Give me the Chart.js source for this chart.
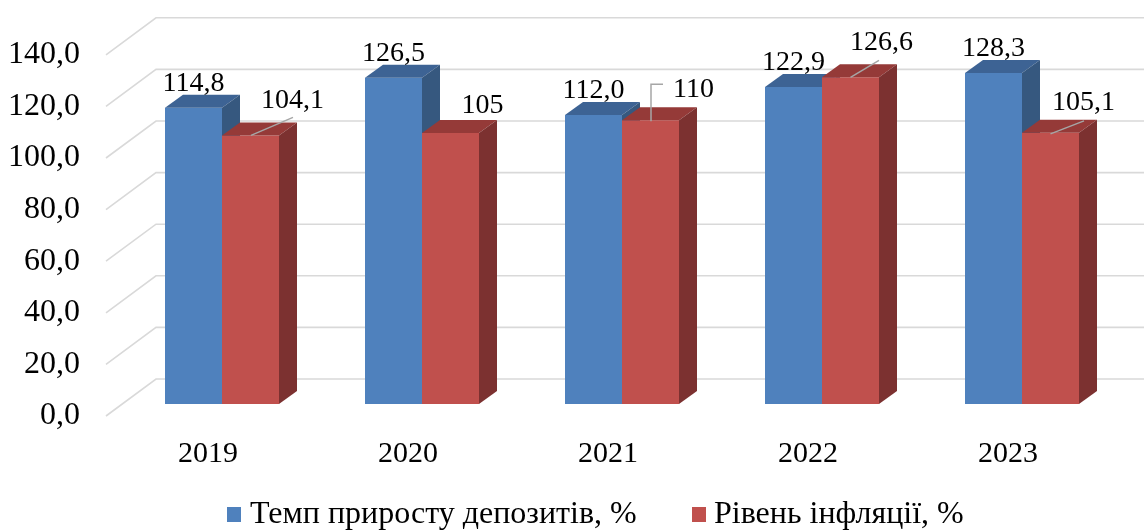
<!DOCTYPE html>
<html>
<head>
<meta charset="utf-8">
<script src="https://cdn.jsdelivr.net/npm/chart.js@4.4.1/dist/chart.umd.min.js"></script>
<style>
  html, body { margin: 0; padding: 0; background: #ffffff; }
  #wrap { width: 1144px; height: 530px; position: relative; }
</style>
</head>
<body>
<div id="wrap"><canvas id="chart" width="1144" height="530"></canvas></div>
<script>
// Years on the category axis
const years = ['2019', '2020', '2021', '2022', '2023'];
// Deposit growth rate, %
const depositGrowth = [114.8, 126.5, 112.0, 122.9, 128.3];
// Inflation level, %
const inflation = [104.1, 105, 110, 126.6, 105.1];
// Series names
const seriesNames = ['Темп приросту депозитів, %', 'Рівень інфляції, %'];
// Value axis ticks
const axisMin = 0, axisMax = 140, axisStep = 20;

// Face colours of the 3-D columns: front, top, side
const faces = [
  { front: '#4F81BD', top: '#3D6394', side: '#36587F' },
  { front: '#C0504D', top: '#953A38', side: '#7C3130' }
];

// Perspective offsets (pixels)
const BAR_DX = 18, BAR_DY = -13;     // column depth
const BACK_DX = 34, BACK_DY = -25;   // column front plane -> back wall
const FRONT_DX = -16, FRONT_DY = 12; // column front plane -> floor front edge

const SERIF = '"Liberation Serif", "Times New Roman", serif';
const fmtAxis = v => v.toFixed(1).replace('.', ',');
const fmtBlue = v => v.toFixed(1).replace('.', ',');
const fmtRed = v => String(v).replace('.', ',');

// Hand-placed label offsets for the second series, with leader lines
const redLabelPos = [
  { dx: 42, dy: -27, leader: [[42.5, -18], [0.5, 0]] },
  { dx: 32, dy: -20, leader: null },
  { dx: 43, dy: -23, leader: [[12.5, -36], [0.5, -36], [0.5, 1]] },
  { dx: 31, dy: -27, leader: [[28.5, -17], [0, 0]] },
  { dx: 33, dy: -23, leader: [[33.5, -12], [0, 1]] }
];

function poly(ctx, pts, color) {
  ctx.beginPath();
  ctx.moveTo(pts[0][0], pts[0][1]);
  for (let i = 1; i < pts.length; i++) ctx.lineTo(pts[i][0], pts[i][1]);
  ctx.closePath();
  ctx.fillStyle = color;
  ctx.fill();
}

const threeD = {
  id: 'threeD',
  beforeDatasetsDraw(chart) {
    const ctx = chart.ctx;
    const ys = chart.scales.y;
    const left = chart.chartArea.left;

    // walls: back gridlines plus the receding lines on the side wall
    ctx.save();
    ctx.strokeStyle = '#D9D9D9';
    ctx.lineWidth = 1.6;
    ys.ticks.forEach(t => {
      const y = ys.getPixelForValue(t.value);
      ctx.beginPath();
      ctx.moveTo(left + FRONT_DX, y + FRONT_DY);
      ctx.lineTo(left + BACK_DX, y + BACK_DY);
      ctx.lineTo(chart.width + 20, y + BACK_DY);
      ctx.stroke();
    });
    ctx.restore();

    // columns, drawn category by category so nearer faces overlap correctly
    const metas = chart.data.datasets.map((d, i) => chart.getDatasetMeta(i));
    for (let i = 0; i < years.length; i++) {
      metas.forEach((meta, s) => {
        const bar = meta.data[i];
        const { x, y, base, width } = bar.getProps(['x', 'y', 'base', 'width'], true);
        const l = x - width / 2, r = x + width / 2;
        const c = faces[s];
        ctx.save();
        poly(ctx, [[l, y], [r, y], [r, base], [l, base]], c.front);
        poly(ctx, [[l, y], [r, y], [r + BAR_DX, y + BAR_DY], [l + BAR_DX, y + BAR_DY]], c.top);
        poly(ctx, [[r, y], [r + BAR_DX, y + BAR_DY], [r + BAR_DX, base + BAR_DY], [r, base]], c.side);
        ctx.restore();
      });
    }
    return false;
  },
  afterDraw(chart) {
    const ctx = chart.ctx;
    ctx.save();
    ctx.fillStyle = '#000000';
    ctx.font = '28px ' + SERIF;
    ctx.textBaseline = 'alphabetic';

    // value labels, first series: centred above the column
    const m0 = chart.getDatasetMeta(0);
    m0.data.forEach((bar, i) => {
      ctx.textAlign = 'center';
      ctx.fillText(fmtBlue(depositGrowth[i]), bar.x, bar.y - 17);
    });

    // value labels, second series, with leader lines
    const m1 = chart.getDatasetMeta(1);
    m1.data.forEach((bar, i) => {
      const p = redLabelPos[i];
      if (p.leader) {
        ctx.beginPath();
        ctx.strokeStyle = '#A6A6A6';
        ctx.lineWidth = 1.5;
        p.leader.forEach((pt, k) => {
          const fn = k === 0 ? 'moveTo' : 'lineTo';
          ctx[fn](bar.x + pt[0], bar.y + pt[1]);
        });
        ctx.stroke();
      }
      ctx.textAlign = 'center';
      ctx.fillText(fmtRed(inflation[i]), bar.x + p.dx, bar.y + p.dy);
    });

    // legend
    const items = [
      { sq: [227, 507, 14, 15], tx: 250, color: faces[0].front, text: chart.data.datasets[0].label },
      { sq: [692, 507, 14, 15], tx: 714, color: faces[1].front, text: chart.data.datasets[1].label }
    ];
    ctx.font = '32px ' + SERIF;
    ctx.textAlign = 'left';
    ctx.textBaseline = 'alphabetic';
    items.forEach(it => {
      ctx.fillStyle = it.color;
      ctx.fillRect(it.sq[0], it.sq[1], it.sq[2], it.sq[3]);
      ctx.fillStyle = '#000000';
      ctx.fillText(it.text, it.tx, 523);
    });
    ctx.restore();
  }
};

new Chart(document.getElementById('chart'), {
  type: 'bar',
  data: {
    labels: years,
    datasets: [
      { label: seriesNames[0], data: depositGrowth, backgroundColor: faces[0].front },
      { label: seriesNames[1], data: inflation, backgroundColor: faces[1].front }
    ]
  },
  options: {
    responsive: false,
    animation: false,
    events: [],
    layout: { padding: { top: 42.8, right: 22, bottom: 0, left: 0 } },
    datasets: { bar: { categoryPercentage: 0.57, barPercentage: 1.0 } },
    plugins: { legend: { display: false }, tooltip: { enabled: false } },
    scales: {
      x: {
        grid: { display: false, drawTicks: false, tickLength: 0 },
        border: { display: false },
        ticks: {
          color: '#000000',
          font: { family: SERIF, size: 30 },
          padding: 32,
          labelOffset: -14,
          maxRotation: 0
        },
        afterFit(s) { s.height = 126; s.paddingLeft = 0; s.paddingRight = 0; }
      },
      y: {
        min: axisMin,
        max: axisMax,
        grid: { display: false, drawTicks: false, tickLength: 0 },
        border: { display: false },
        ticks: {
          stepSize: axisStep,
          color: '#000000',
          font: { family: SERIF, size: 32 },
          padding: 42,
          labelOffset: 12,
          callback: v => fmtAxis(v)
        },
        afterFit(s) { s.width = 122; s.paddingTop = 0; s.paddingBottom = 0; }
      }
    }
  },
  plugins: [threeD]
});
</script>
</body>
</html>
